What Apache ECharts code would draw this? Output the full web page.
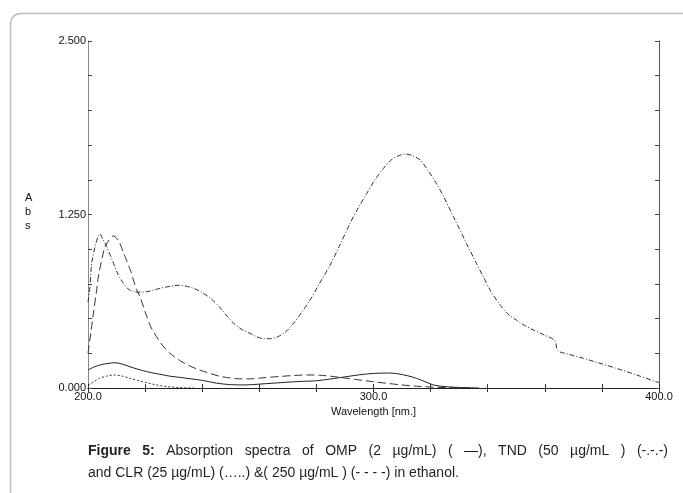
<!DOCTYPE html>
<html>
<head>
<meta charset="utf-8">
<script src="https://cdn.jsdelivr.net/npm/echarts@6/dist/echarts.min.js"></script>
<style>
html,body{margin:0;padding:0;background:#fff;}
#chart{width:683px;height:493px;}
</style>
</head>
<body>
<div id="chart"></div>
<script>
// Wavelength (nm) and absorbance per series
const ompWl  = [200,202,204.2,207,209.5,212,214.7,217.5,220.6,223.5,226.4,229,232,236,240,245,250,255,260,265,270,275,280,285,290,295,300,305,308,312,315,318,321,325,330,337];
const ompAbs = [0.13,0.15,0.166,0.177,0.182,0.172,0.153,0.135,0.118,0.105,0.094,0.084,0.077,0.066,0.055,0.035,0.024,0.022,0.028,0.035,0.042,0.048,0.052,0.065,0.08,0.095,0.105,0.108,0.104,0.088,0.07,0.046,0.022,0.01,0.004,0.0];

const tndWl  = [200,200.7,201.3,202.5,203.5,204.2,205,206.5,208.9,210.5,212.4,214,215.9,218,220.6,223,225.2,228,230,232,234,236,239,243,246,249,251,254,256.7,259,261.4,263.5,266,269,272,275,277.8,281,284.8,288,291.8,295,297.6,300.5,303.4,306,308,311,313.5,316.3,319,322,325,328,332.6,336,338.5,341,344.3,347,350,353,356,360,363.5,364.5,368,373.5,379,385,392,399,400];
const tndAbs = [0.62,0.73,0.9,1.02,1.09,1.11,1.08,1.02,0.9,0.82,0.754,0.715,0.694,0.69,0.694,0.705,0.718,0.73,0.737,0.74,0.735,0.725,0.7,0.645,0.585,0.51,0.466,0.42,0.394,0.37,0.355,0.355,0.365,0.4,0.466,0.55,0.634,0.75,0.886,1.02,1.187,1.31,1.4,1.5,1.58,1.64,1.666,1.686,1.675,1.643,1.57,1.475,1.36,1.234,1.04,0.9,0.8,0.7,0.6,0.535,0.49,0.45,0.418,0.38,0.342,0.27,0.245,0.214,0.18,0.142,0.095,0.045,0.04];

const clr25Wl  = [200,202,204,206.5,209,211.5,214.7,217.5,220.6,224,227.6,232,237];
const clr25Abs = [0.02,0.045,0.07,0.085,0.094,0.088,0.07,0.054,0.038,0.022,0.01,0.003,0.0];

const clr250Wl  = [200,201,201.9,203,203.6,205,206,207.5,208.9,210,211.2,212.3,213.5,215,215.9,217,218.2,220.6,222,224,226,228.7,232,235,239,242,246,250,253,257,262,267,272,277,281,285,290,295,300,305,310,315,321,328,335];
const clr250Abs = [0.25,0.4,0.54,0.7,0.8,0.94,1.02,1.07,1.095,1.08,1.04,0.98,0.92,0.84,0.778,0.71,0.658,0.514,0.44,0.37,0.31,0.25,0.2,0.165,0.13,0.11,0.085,0.072,0.066,0.066,0.075,0.083,0.09,0.094,0.092,0.085,0.072,0.058,0.045,0.033,0.022,0.013,0.006,0.002,0.0];

const xTickLabels = [200, 300, 400];
const yTickLabels = [0, 1.25, 2.5];

const captionLine1 = ['Figure','5:','Absorption','spectra','of','OMP','(2','µg/mL)','(','—),','TND','(50','µg/mL',')','(-.-.-)'];
const captionLine2 = 'and CLR (25 µg/mL) (…..) &( 250 µg/mL ) (- - - -) in ethanol.';

function pairs(xs, ys){ return xs.map((x,i)=>[x, ys[i]]); }

const chart = echarts.init(document.getElementById('chart'), null, {renderer:'canvas'});
const font = 'Liberation Sans, Arial, sans-serif';
const capSize = 14;

// justified first caption line
const mctx = document.createElement('canvas').getContext('2d');
function tw(t, bold){ mctx.font = (bold?'bold ':'') + capSize + 'px ' + font; return mctx.measureText(t).width; }
const capLeft = 88, capRight = 668;
const widths = captionLine1.map((w,i)=>tw(w, i<2));
const total = widths.reduce((a,b)=>a+b,0);
const gap = (capRight - capLeft - total) / (captionLine1.length - 1);
const capGraphics = [];
let cx = capLeft;
captionLine1.forEach((w,i)=>{
  capGraphics.push({type:'text', left:cx, top:444, silent:true,
    style:{text:w, font:(i<2?'bold ':'') + capSize + 'px ' + font, fill:'#231f20'}});
  cx += widths[i] + gap;
});
capGraphics.push({type:'text', left:capLeft, top:466, silent:true,
  style:{text:captionLine2, font:capSize + 'px ' + font, fill:'#231f20'}});

const lineBase = {type:'line', showSymbol:false, symbol:'none', smooth:0.3, animation:false, silent:true};

chart.setOption({
  animation:false,
  backgroundColor:'#fff',
  grid:{left:88, right:24, top:41, bottom:105},
  xAxis:[{
    type:'value', min:200, max:400, interval:20, position:'bottom',
    axisLine:{lineStyle:{color:'#555', width:1}},
    axisTick:{inside:true, length:4, lineStyle:{color:'#333'}},
    splitLine:{show:false},
    axisLabel:{customValues:xTickLabels, formatter:v=>v.toFixed(1), color:'#111', fontFamily:font, fontSize:11, margin:3},
    name:'Wavelength [nm.]', nameLocation:'middle', nameGap:17,
    nameTextStyle:{color:'#111', fontFamily:font, fontSize:11}
  },{
    type:'value', min:200, max:400, interval:20, position:'top',
    axisLine:{lineStyle:{color:'#222', width:1}},
    axisTick:{inside:true, length:4, lineStyle:{color:'#333'}},
    splitLine:{show:false}, axisLabel:{show:false}
  }],
  yAxis:[{
    type:'value', min:0, max:2.5, interval:0.25, position:'left',
    axisLine:{show:true, lineStyle:{color:'#888', width:1}},
    axisTick:{show:true, inside:true, length:4, lineStyle:{color:'#444'}},
    splitLine:{show:false},
    axisLabel:{customValues:yTickLabels, formatter:v=>v.toFixed(3), color:'#111', fontFamily:font, fontSize:11, margin:2}
  },{
    type:'value', min:0, max:2.5, interval:0.25, position:'right',
    axisLine:{show:true, lineStyle:{color:'#555', width:1}},
    axisTick:{show:true, inside:true, length:4, lineStyle:{color:'#444'}},
    splitLine:{show:false}, axisLabel:{show:false}
  }],
  series:[
    Object.assign({}, lineBase, {name:'OMP', data:pairs(ompWl, ompAbs), lineStyle:{color:'#222', width:1, type:'solid'}}),
    Object.assign({}, lineBase, {name:'TND', data:pairs(tndWl, tndAbs), lineStyle:{color:'#333', width:1, type:[5,2,1,2]}}),
    Object.assign({}, lineBase, {name:'CLR25', data:pairs(clr25Wl, clr25Abs), lineStyle:{color:'#333', width:1, type:[2,2]}}),
    Object.assign({}, lineBase, {name:'CLR250', data:pairs(clr250Wl, clr250Abs), lineStyle:{color:'#333', width:1, type:[8,4]}})
  ],
  graphic:[
    {type:'rect', left:8, top:11, shape:{width:700, height:520, r:10}, style:{fill:'none', stroke:'#bdbdbd', lineWidth:1.5}, silent:true, z:-1},
    {type:'text', left:25, top:192, style:{text:'A', font:'11px '+font, fill:'#111'}},
    {type:'text', left:25, top:206, style:{text:'b', font:'11px '+font, fill:'#111'}},
    {type:'text', left:25, top:220, style:{text:'s', font:'11px '+font, fill:'#111'}}
  ].concat(capGraphics)
});
</script>
</body>
</html>
